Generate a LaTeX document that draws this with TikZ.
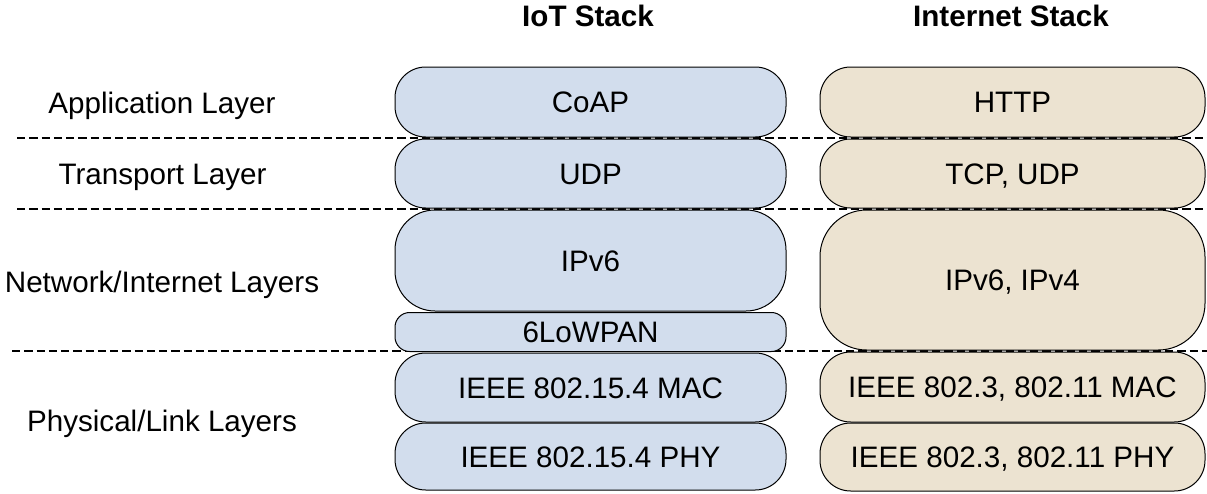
\documentclass[tikz,border=0pt]{standalone}
\usepackage{fontspec}
\setmainfont{Liberation Sans}
\definecolor{iotblue}{RGB}{210,221,237}
\definecolor{inetbeige}{RGB}{236,227,209}
\tikzset{
  bigfont/.style={font=\fontsize{22.2pt}{26pt}\selectfont},
  lay/.style={draw=black, line width=0.75pt, inner sep=0pt, bigfont, text height=15.9pt, text depth=0pt, align=center},
  iot/.style={lay, fill=iotblue, minimum width=293.25pt},
  inet/.style={lay, fill=inetbeige, minimum width=288.75pt},
  sepline/.style={dash pattern=on 6.2pt off 3pt, line width=1.5pt},
  lbl/.style={inner sep=0pt, bigfont, text height=15.9pt, text depth=0pt},
  hdr/.style={inner sep=0pt, font=\fontsize{22.2pt}{26pt}\selectfont\bfseries, text height=15.9pt, text depth=0pt}
}
\begin{document}
\begin{tikzpicture}[x=0.75pt, y=-0.75pt]
\path[use as bounding box] (0,0) rectangle (1207,493);

% separator lines (behind boxes)
\coordinate (d1l) at (17,138);  \coordinate (d1r) at (1207,138);
\coordinate (d2l) at (17,209);  \coordinate (d2r) at (1207,209);
\coordinate (d3l) at (12,351);  \coordinate (d3r) at (1207,351);
\draw[sepline] (d1l) -- (d1r);
\draw[sepline] (d2l) -- (d2r);
\draw[sepline] (d3l) -- (d3r);

% headers
\node[hdr] (hiot) at (588,16) {IoT Stack};
\node[hdr] (hinet) at (1011,16) {Internet Stack};

% layer labels
\node[lbl] (lapp) at (162,103) {Application Layer};
\node[lbl] (ltrans) at (162.5,174) {Transport Layer};
\node[lbl] (lnet) at (162,282) {Network/Internet Layers};
\node[lbl] (lphys) at (162,421) {Physical/Link Layers};

% IoT stack
\node[iot, minimum height=52.5pt, rounded corners=23pt] (coap) at (590.5,102) {CoAP};
\node[iot, minimum height=51.75pt, rounded corners=23pt] (iudp) at (590.5,173.5) {UDP};
\node[iot, minimum height=75.75pt, rounded corners=30pt] (ipv6) at (590.5,260.5) {IPv6};
\node[iot, minimum height=29.25pt, rounded corners=11pt] (lowpan) at (590.5,332) {6LoWPAN};
\node[iot, minimum height=51.75pt, rounded corners=23pt] (imac) at (590.5,387.5) {IEEE 802.15.4 MAC};
\node[iot, minimum height=50.25pt, rounded corners=23pt] (iphy) at (590.5,456.5) {IEEE 802.15.4 PHY};

% Internet stack
\node[inet, minimum height=52.5pt, rounded corners=23pt] (http) at (1012.5,102) {HTTP};
\node[inet, minimum height=51.75pt, rounded corners=23pt] (tcp) at (1012.5,173.5) {TCP, UDP};
\node[inet, minimum height=105pt, rounded corners=35pt] (ipv46) at (1012.5,280) {IPv6, IPv4};
\node[inet, minimum height=52.5pt, rounded corners=23pt] (nmac) at (1012.5,387) {IEEE 802.3, 802.11 MAC};
\node[inet, minimum height=51pt, rounded corners=23pt] (nphy) at (1012.5,457) {IEEE 802.3, 802.11 PHY};
\end{tikzpicture}
\end{document}
